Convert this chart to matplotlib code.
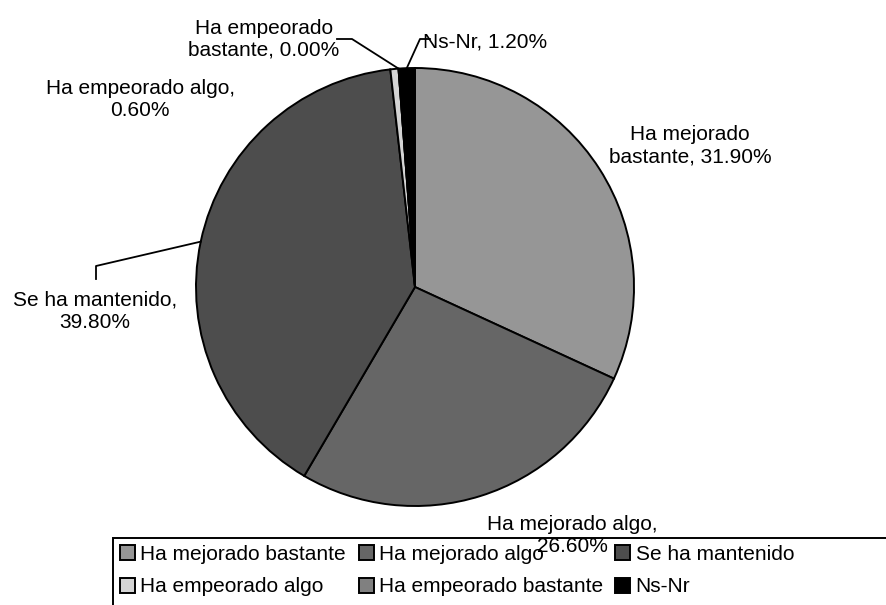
import matplotlib
matplotlib.use("Agg")
import matplotlib.pyplot as plt
import numpy as np
from matplotlib.patches import Rectangle

plt.rcParams["font.family"] = ["Liberation Sans", "DejaVu Sans"]

# data
CATEGORIES = ["Ha mejorado bastante", "Ha mejorado algo", "Se ha mantenido",
              "Ha empeorado algo", "Ha empeorado bastante", "Ns-Nr"]
VALUES = [31.9, 26.6, 39.8, 0.6, 0.0, 1.2]
COLORS = ["#969696", "#666666", "#4d4d4d", "#d4d4d4", "#808080", "#000000"]
# how each data label is wrapped (Excel style)
LABEL_BREAKS = ["Ha mejorado\nbastante", "Ha mejorado algo,\n", "Se ha mantenido,\n",
                "Ha empeorado algo,\n", "Ha empeorado\nbastante", "Ns-Nr"]

# layout (image pixels, origin top-left)
W, H = 887, 605
CX, CY, R = 415, 287, 219
LABEL_POS = [(690, 146), (572, 535), (95, 311), (140, 100), (264, 39), (485, 42)]
# leader elbows: None = no leader
LEADERS = [None, None, [(96, 266), (96, 279)], None,
           [(352, 39), (337, 39)], [(420, 39), (430, 39)]]
FS = 15


def to_data(x, y):
    return (x - CX) / R, (CY - y) / R


fig = plt.figure(figsize=(W / 100, H / 100), dpi=100)
ax = fig.add_axes([(CX - R) / W, (H - CY - R) / H, 2 * R / W, 2 * R / H])

wedges, _ = ax.pie(VALUES, colors=COLORS, startangle=90, counterclock=False,
                   wedgeprops=dict(edgecolor="black", linewidth=1.4))
ax.set_xlim(-1, 1)
ax.set_ylim(-1, 1)
ax.axis("off")

for i, (name, val) in enumerate(zip(CATEGORIES, VALUES)):
    brk = LABEL_BREAKS[i]
    if brk.endswith("\n"):
        txt = f"{brk}{val:.2f}%"
    else:
        txt = f"{brk}, {val:.2f}%"
    lx, ly = LABEL_POS[i]
    fig.text(lx / W, 1 - ly / H, txt, ha="center", va="center",
             multialignment="center", fontsize=FS, color="black")
    if LEADERS[i] is not None:
        w = wedges[i]
        mid = np.deg2rad((w.theta1 + w.theta2) / 2)
        pts = [(np.cos(mid), np.sin(mid))] + [to_data(*p) for p in LEADERS[i]]
        xs, ys = zip(*pts)
        ax.plot(xs, ys, color="black", linewidth=1.3, clip_on=False)

# legend, row-major order like the original
order = [0, 3, 1, 4, 2, 5]
leg = fig.legend([wedges[i] for i in order], [CATEGORIES[i] for i in order],
                 ncol=3, loc="upper left", bbox_to_anchor=(116 / W, 1 - 541 / H),
                 frameon=False, fontsize=FS, handlelength=0.72, handleheight=0.72,
                 handletextpad=0.25, columnspacing=0.6, labelspacing=0.64,
                 borderpad=0.2, borderaxespad=0)
fig.add_artist(Rectangle((113 / W, -0.1), 2, (H - 538) / H + 0.1,
                         transform=fig.transFigure, fill=False,
                         edgecolor="black", linewidth=1.4))

fig.savefig("out.png", dpi=100)
